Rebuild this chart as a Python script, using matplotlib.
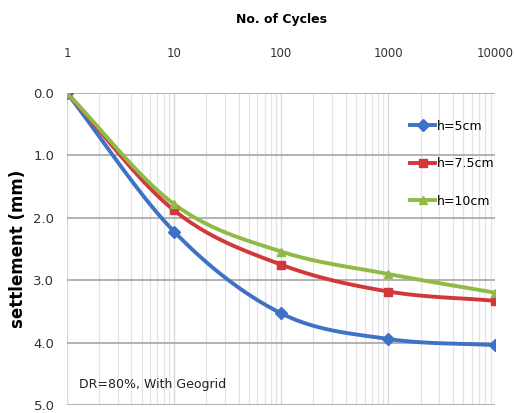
import numpy as np
import matplotlib
matplotlib.use("Agg")
import matplotlib.pyplot as plt
from matplotlib.ticker import LogLocator, NullFormatter

cycles = [1, 10, 100, 1000, 10000]
s_5 = [0.0, 2.22, 3.53, 3.94, 4.04]
s_75 = [0.0, 1.88, 2.75, 3.18, 3.33]
s_10 = [0.0, 1.78, 2.54, 2.9, 3.2]
labels = ["h=5cm", "h=7.5cm", "h=10cm"]
colors = ["#3F72C6", "#D2373A", "#8FBA45"]
markers = ["D", "s", "^"]
xticklabels = ["1", "10", "100", "1000", "10000"]
yticks = [0.0, 1.0, 2.0, 3.0, 4.0, 5.0]

plt.rcParams['font.family'] = ['DejaVu Sans']

def smooth(xs, ys, n=30):
    lx = np.log10(xs)
    ys = np.asarray(ys, float)
    P = np.column_stack([lx, ys])
    P = np.vstack([2 * P[0] - P[1], P, 2 * P[-1] - P[-2]])
    out = []
    for i in range(1, len(P) - 2):
        p0, p1, p2, p3 = P[i - 1], P[i], P[i + 1], P[i + 2]
        t = np.linspace(0, 1, n)[:, None]
        pts = 0.5 * ((2 * p1) + (-p0 + p2) * t + (2 * p0 - 5 * p1 + 4 * p2 - p3) * t**2
                     + (-p0 + 3 * p1 - 3 * p2 + p3) * t**3)
        out.append(pts)
    out = np.vstack(out)
    return 10 ** out[:, 0], out[:, 1]

fig = plt.figure(figsize=(5.15, 4.13), dpi=100)
ax = fig.add_axes([0.130, 0.019, 0.832, 0.756])
ax.set_xscale('log')
ax.set_xlim(1, 10000)
ax.set_ylim(5.0, 0.0)

for ys, lab, c, m in zip([s_5, s_75, s_10], labels, colors, markers):
    sx, sy = smooth(cycles, ys)
    ax.plot(sx, sy, color=c, lw=2.8, zorder=3)
    ax.plot(cycles, ys, linestyle='none', marker=m, color=c, ms=6, zorder=4)
    ax.plot([], [], color=c, lw=2.8, marker=m, ms=6, label=lab)

ax.xaxis.tick_top()
ax.xaxis.set_label_position('top')
ax.set_xticks(cycles)
ax.set_xticklabels(xticklabels)
ax.xaxis.set_minor_locator(LogLocator(base=10, subs=np.arange(2, 10)))
ax.xaxis.set_minor_formatter(NullFormatter())
ax.set_yticks(yticks)
ax.set_yticklabels([f"{v:.1f}" for v in yticks])
ax.tick_params(axis='both', length=0, labelsize=9.5, colors='#333333')
ax.tick_params(axis='x', pad=24, labelsize=8.5)
ax.tick_params(axis='y', pad=9)
ax.tick_params(axis='x', which='minor', length=0)
ax.set_xlabel("No. of Cycles", fontsize=9, fontweight='bold', labelpad=17)
ax.set_ylabel("settlement (mm)", fontsize=12, fontweight='bold', labelpad=5)

ax.grid(True, axis='y', which='major', color='#A6A6A6', lw=1.2)
ax.grid(True, axis='x', which='major', color='#D9D9D9', lw=1.0)
ax.grid(True, axis='x', which='minor', color='#E3E3E3', lw=0.9)
for sp in ax.spines.values():
    sp.set_visible(False)

ax.text(1.3, 4.72, "DR=80%, With Geogrid", fontsize=9, color='#222222')
ax.legend(loc='upper left', bbox_to_anchor=(0.775, 0.95), frameon=False, fontsize=9,
          handlelength=2.0, labelspacing=1.95, handletextpad=0.15)

fig.savefig("out.png", dpi=100)
